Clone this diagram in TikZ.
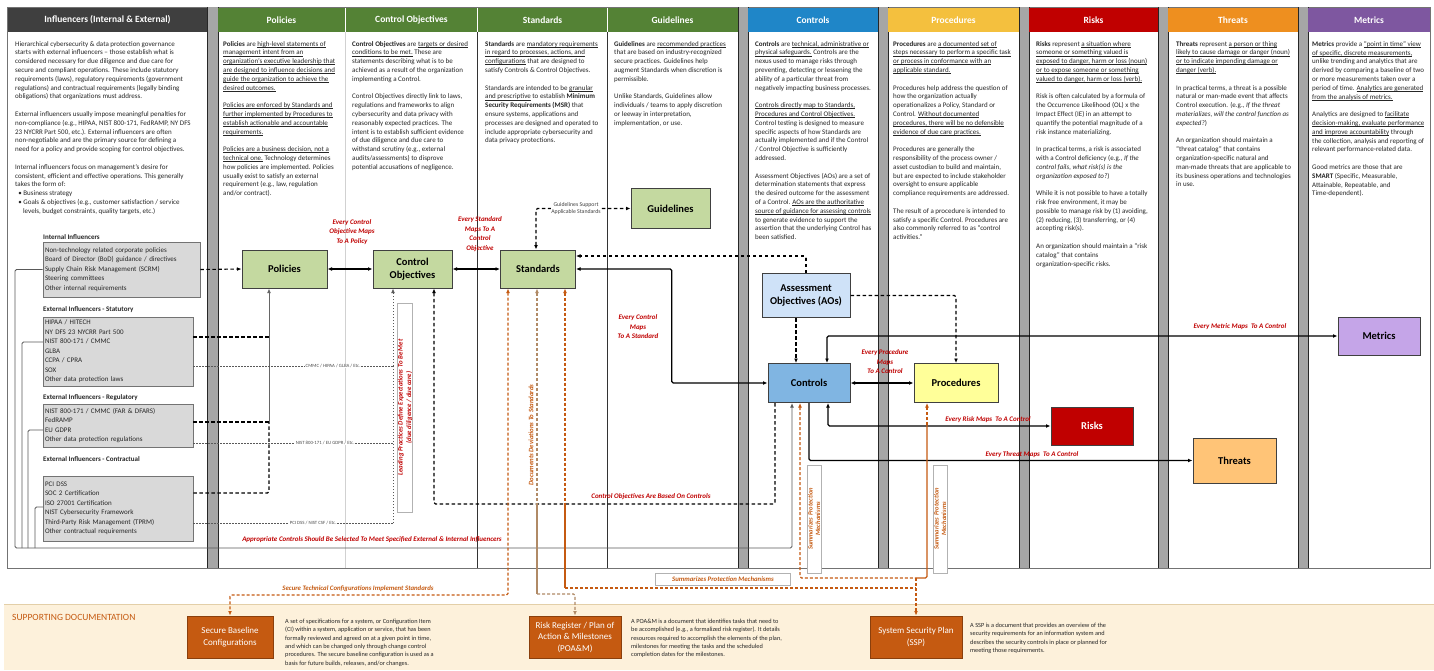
\documentclass[tikz,border=0pt]{standalone}
\usepackage{fontspec}
\setmainfont{Carlito}
\usetikzlibrary{arrows.meta,calc}

% palette
\definecolor{hdrgray}{HTML}{3F3F3F}
\definecolor{hdrgreen}{HTML}{548235}
\definecolor{hdrblue}{HTML}{1F86C8}
\definecolor{hdryellow}{HTML}{F4C03E}
\definecolor{hdrred}{HTML}{C00000}
\definecolor{hdrorange}{HTML}{EE8F1F}
\definecolor{hdrpurple}{HTML}{7E57A0}
\definecolor{bargray}{HTML}{A6A6A6}
\definecolor{boxgreen}{HTML}{C4D9A0}
\definecolor{aoblue}{HTML}{CFE2F8}
\definecolor{ctlblue}{HTML}{80B5E2}
\definecolor{procyellow}{HTML}{FFFF99}
\definecolor{riskred}{HTML}{C00000}
\definecolor{threatorange}{HTML}{FFC477}
\definecolor{metricpurple}{HTML}{C5A5E8}
\definecolor{infgray}{HTML}{D9D9D9}
\definecolor{labred}{HTML}{C00000}
\definecolor{docorange}{HTML}{C55A11}
\definecolor{docbrown}{HTML}{B08A66}
\definecolor{docband}{HTML}{FDF1DB}
\definecolor{docline}{HTML}{E3CFA8}
\definecolor{txt}{HTML}{262626}

% underlined phrase
\newsavebox\ulkbox
\newcommand{\ulk}[1]{\sbox\ulkbox{#1}\rlap{\rule[-1.2pt]{\wd\ulkbox}{0.45pt}}\usebox\ulkbox}

\tikzset{
  hdr/.style={text=white,font=\fontsize{9.5}{11}\selectfont\bfseries,inner sep=0pt},
  body/.style={anchor=north west,align=left,inner sep=0pt,text=txt,font=\fontsize{7}{8.8}\selectfont},
  docbody/.style={anchor=north west,align=left,inner sep=0pt,text=txt,font=\fontsize{6.3}{8.3}\selectfont},
  infhead/.style={anchor=west,inner sep=0pt,text=txt,font=\fontsize{7}{8}\selectfont\bfseries},
  infbox/.style={draw=black!55,fill=infgray,line width=0.7pt,align=left,text=txt,
    font=\fontsize{7}{9.5}\selectfont,inner xsep=2pt,inner ysep=0pt},
  mapbox/.style={draw=black!75,line width=1pt,align=center,
    font=\fontsize{10.5}{13.5}\selectfont\bfseries,inner sep=1pt},
  docbox/.style={draw=docorange!70!black,fill=docorange,line width=0.8pt,text=white,align=center,
    font=\fontsize{9}{11.5}\selectfont,inner sep=1pt},
  redlab/.style={text=labred,align=center,inner sep=0pt,font=\fontsize{7}{9.5}\selectfont\bfseries\itshape},
  orglab/.style={text=docorange,align=center,inner sep=0pt,font=\fontsize{6.8}{8.5}\selectfont\bfseries\itshape},
  labframe/.style={draw=black!30,fill=white,line width=0.5pt},
  tinylab/.style={fill=white,inner sep=0.6pt,text=black!70,font=\fontsize{4.8}{5.5}\selectfont},
  sline/.style={draw=black,line width=1.1pt,rounded corners=1.5pt},
  dline/.style={draw=black,line width=1.1pt,dash pattern=on 3.5pt off 2.5pt,rounded corners=1.5pt},
  gline/.style={draw=black!60,line width=1pt,rounded corners=1.5pt},
  dotline/.style={draw=black!65,line width=0.8pt,dash pattern=on 1.2pt off 1.8pt},
  brk/.style={draw=black!65,line width=0.9pt,rounded corners=1.5pt},
  odash/.style={draw=docorange,line width=1.1pt,dash pattern=on 3pt off 2pt,rounded corners=1.5pt},
  osolid/.style={draw=docorange,line width=1.1pt,rounded corners=1.5pt},
  bdash/.style={draw=docbrown,line width=1.1pt,dash pattern=on 3pt off 2pt,rounded corners=1.5pt},
  bsolid/.style={draw=docbrown,line width=1.1pt,rounded corners=1.5pt},
}

\begin{document}
\begin{tikzpicture}[x=1pt,y=-1pt,>={Latex[length=4.5pt,width=3.8pt]}]
\useasboundingbox (0,0) rectangle (1434,670);
\fill[white] (0,0) rectangle (1434,670);

%---- supporting documentation band
\fill[docband] (4,604) rectangle (1434,670);
\draw[docline,line width=0.8pt] (4,604) -- (1434,604);

%---- panel frame, column separators and gray bars
\draw[black!55,line width=0.8pt] (7,7) rectangle (1430,568);
\draw[black!18,line width=0.6pt] (345.5,32) -- (345.5,568);
\draw[black!80,line width=0.6pt] (477.5,32) -- (477.5,568);
\draw[black!80,line width=0.6pt] (607.5,32) -- (607.5,568);
\foreach \a/\b in {207/218,738/748,878/888,1019/1029,1158/1168,1298/1308}{
  \fill[bargray] (\a,7) rectangle (\b,568);
  \draw[black!85,line width=0.6pt] (\a,7) -- (\a,568) (\b,7) -- (\b,568);
}

%---- column headers
\fill[hdrgray] (8,8) rectangle (207,32);
\fill[hdrgreen] (218,8) rectangle (738,32);
\draw[white,line width=0.6pt] (345.5,8) -- (345.5,32) (477.5,8) -- (477.5,32) (607.5,8) -- (607.5,32);
\fill[hdrblue] (748,8) rectangle (878,32);
\fill[hdryellow] (888,8) rectangle (1019,32);
\fill[hdrred] (1029,8) rectangle (1158,32);
\fill[hdrorange] (1168,8) rectangle (1298,32);
\fill[hdrpurple] (1308,8) rectangle (1430,32);
\node[hdr] (hInf) at (107.5,20) {Influencers (Internal \& External)};
\node[hdr] (hPol) at (281.5,20) {Policies};
\node[hdr] (hCO) at (411.5,20) {Control Objectives};
\node[hdr] (hStd) at (542.5,20) {Standards};
\node[hdr] (hGdl) at (672.5,20) {Guidelines};
\node[hdr] (hCtl) at (813,20) {Controls};
\node[hdr] (hPrc) at (953.5,20) {Procedures};
\node[hdr] (hRsk) at (1093.5,20) {Risks};
\node[hdr] (hThr) at (1233,20) {Threats};
\node[hdr] (hMet) at (1369,20) {Metrics};

%---- column texts
\node[body] (tInf) at (15,41) {Hierarchical cybersecurity \& data protection governance\\
starts with external influencers – those establish what is\\
considered necessary for due diligence and due care for\\
secure and compliant operations. These include statutory\\
requirements (laws), regulatory requirements (government\\
regulations) and contractual requirements (legally binding\\
obligations) that organizations must address.\\[8.8pt]
External influencers usually impose meaningful penalties for\\
non-compliance (e.g., HIPAA, NIST 800-171, FedRAMP, NY DFS\\
23 NYCRR Part 500, etc.). External influencers are often\\
non-negotiable and are the primary source for defining a\\
need for a policy and provide scoping for control objectives.\\[8.8pt]
Internal influencers focus on management’s desire for\\
consistent, efficient and effective operations. This generally\\
takes the form of:\\
\ \ • Business strategy\\
\ \ • Goals \& objectives (e.g., customer satisfaction / service\\
\ \ \ \ \ levels, budget constraints, quality targets, etc.)};

\node[body] (tPol) at (223,41) {\textbf{Policies} are \ulk{high-level statements of}\\
\ulk{management intent from an}\\
\ulk{organization’s executive leadership that}\\
\ulk{are designed to influence decisions and}\\
\ulk{guide the organization to achieve the}\\
\ulk{desired outcomes.}\\[8.8pt]
\ulk{Policies are enforced by Standards and}\\
\ulk{further implemented by Procedures to}\\
\ulk{establish actionable and accountable}\\
\ulk{requirements.}\\[8.8pt]
\ulk{Policies are a business decision, not a}\\
\ulk{technical one.} Technology determines\\
how policies are implemented. Policies\\
usually exist to satisfy an external\\
requirement (e.g., law, regulation\\
and/or contract).};

\node[body] (tCO) at (352,41) {\textbf{Control Objectives} are \ulk{targets or desired}\\
\ulk{conditions to be met.} These are\\
statements describing what is to be\\
achieved as a result of the organization\\
implementing a Control.\\[8.8pt]
Control Objectives directly link to laws,\\
regulations and frameworks to align\\
cybersecurity and data privacy with\\
reasonably expected practices. The\\
intent is to establish sufficient evidence\\
of due diligence and due care to\\
withstand scrutiny (e.g., external\\
audits/assessments) to disprove\\
potential accusations of negligence.};

\node[body] (tStd) at (485,41) {\textbf{Standards} are \ulk{mandatory requirements}\\
\ulk{in regard to processes, actions, and}\\
\ulk{configurations} that are designed to\\
satisfy Controls \& Control Objectives.\\[8.8pt]
Standards are intended to be \ulk{granular}\\
\ulk{and prescriptive} to establish \textbf{Minimum}\\
\textbf{Security Requirements (MSR)} that\\
ensure systems, applications and\\
processes are designed and operated to\\
include appropriate cybersecurity and\\
data privacy protections.};

\node[body] (tGdl) at (614,41) {\textbf{Guidelines} are \ulk{recommended practices}\\
that are based on industry-recognized\\
secure practices. Guidelines help\\
augment Standards when discretion is\\
permissible.\\[8.8pt]
Unlike Standards, Guidelines allow\\
individuals / teams to apply discretion\\
or leeway in interpretation,\\
implementation, or use.};

\node[body] (tCtl) at (755,41) {\textbf{Controls} are \ulk{technical, administrative or}\\
\ulk{physical safeguards.} Controls are the\\
nexus used to manage risks through\\
preventing, detecting or lessening the\\
ability of a particular threat from\\
negatively impacting business processes.\\[8.8pt]
\ulk{Controls directly map to Standards,}\\
\ulk{Procedures and Control Objectives.}\\
Control testing is designed to measure\\
specific aspects of how Standards are\\
actually implemented and if the Control\\
/ Control Objective is sufficiently\\
addressed.\\[8.8pt]
Assessment Objectives (AOs) are a set of\\
determination statements that express\\
the desired outcome for the assessment\\
of a Control. \ulk{AOs are the authoritative}\\
\ulk{source of guidance for assessing controls}\\
to generate evidence to support the\\
assertion that the underlying Control has\\
been satisfied.};

\node[body] (tPrc) at (893,41) {\textbf{Procedures} are \ulk{a documented set of}\\
\ulk{steps necessary to perform a specific task}\\
\ulk{or process in conformance with an}\\
\ulk{applicable standard.}\\[8.8pt]
Procedures help address the question of\\
how the organization actually\\
operationalizes a Policy, Standard or\\
Control. \ulk{Without documented}\\
\ulk{procedures, there will be no defensible}\\
\ulk{evidence of due care practices.}\\[8.8pt]
Procedures are generally the\\
responsibility of the process owner /\\
asset custodian to build and maintain,\\
but are expected to include stakeholder\\
oversight to ensure applicable\\
compliance requirements are addressed.\\[8.8pt]
The result of a procedure is intended to\\
satisfy a specific Control. Procedures are\\
also commonly referred to as “control\\
activities.”};

\node[body] (tRsk) at (1036,41) {\textbf{Risks} represent \ulk{a situation where}\\
\ulk{someone or something valued is}\\
\ulk{exposed to danger, harm or loss (noun)}\\
\ulk{or to expose someone or something}\\
\ulk{valued to danger, harm or loss (verb).}\\[8.8pt]
Risk is often calculated by a formula of\\
the Occurrence Likelihood (OL) x the\\
Impact Effect (IE) in an attempt to\\
quantify the potential magnitude of a\\
risk instance materializing.\\[8.8pt]
In practical terms, a risk is associated\\
with a Control deficiency (e.g., \textit{If the}\\
\textit{control fails, what risk(s) is the}\\
\textit{organization exposed to?})\\[8.8pt]
While it is not possible to have a totally\\
risk free environment, it may be\\
possible to manage risk by (1) avoiding,\\
(2) reducing, (3) transferring, or (4)\\
accepting risk(s).\\[8.8pt]
An organization should maintain a “risk\\
catalog” that contains\\
organization-specific risks.};

\node[body] (tThr) at (1176,41) {\textbf{Threats} represent \ulk{a person or thing}\\
\ulk{likely to cause damage or danger (noun)}\\
\ulk{or to indicate impending damage or}\\
\ulk{danger (verb).}\\[8.8pt]
In practical terms, a threat is a possible\\
natural or man-made event that affects\\
Control execution. (e.g., \textit{If the threat}\\
\textit{materializes, will the control function as}\\
\textit{expected?})\\[8.8pt]
An organization should maintain a\\
“threat catalog” that contains\\
organization-specific natural and\\
man-made threats that are applicable to\\
its business operations and technologies\\
in use.};

\node[body] (tMet) at (1312,41) {\textbf{Metrics} provide a \ulk{“point in time” view}\\
\ulk{of specific, discrete measurements,}\\
unlike trending and analytics that are\\
derived by comparing a baseline of two\\
or more measurements taken over a\\
period of time. \ulk{Analytics are generated}\\
\ulk{from the analysis of metrics.}\\[8.8pt]
Analytics are designed to \ulk{facilitate}\\
\ulk{decision-making, evaluate performance}\\
\ulk{and improve accountability} through\\
the collection, analysis and reporting of\\
relevant performance-related data.\\[8.8pt]
Good metrics are those that are\\
\textbf{SMART} (Specific, Measurable,\\
Attainable, Repeatable, and\\
Time-dependent).};

%---- influencer groups
\node[infhead] (hIntB) at (43,237) {Internal Influencers};
\node[infbox,text width=153pt,minimum height=55pt] (intb) at (121.5,269.5) {Non-technology related corporate policies\\
Board of Director (BoD) guidance / directives\\
Supply Chain Risk Management (SCRM)\\
Steering committees\\
Other internal requirements};
\node[infhead] (hStB) at (43,310) {External Influencers - Statutory};
\node[infbox,text width=146pt,minimum height=69pt] (stb) at (118,351.5) {HIPAA / HITECH\\
NY DFS 23 NYCRR Part 500\\
NIST 800-171 / CMMC\\
GLBA\\
CCPA / CPRA\\
SOX\\
Other data protection laws};
\node[infhead] (hRgB) at (43,398) {External Influencers - Regulatory};
\node[infbox,text width=146pt,minimum height=43pt] (rgb) at (118,425.5) {NIST 800-171 / CMMC (FAR \& DFARS)\\
FedRAMP\\
EU GDPR\\
Other data protection regulations};
\node[infhead] (hCtB) at (43,459) {External Influencers - Contractual};
\node[infbox,text width=146pt,minimum height=65pt] (ctb) at (118,508.5) {PCI DSS\\
SOC 2 Certification\\
ISO 27001 Certification\\
NIST Cybersecurity Framework\\
Third-Party Risk Management (TPRM)\\
Other contractual requirements};

%---- main mapping nodes
\node[mapbox,fill=boxgreen,minimum width=85pt,minimum height=38pt] (pol) at (284.5,269) {Policies};
\node[mapbox,fill=boxgreen,minimum width=79pt,minimum height=38pt] (cobj) at (412.5,269) {Control\\Objectives};
\node[mapbox,fill=boxgreen,minimum width=75pt,minimum height=38pt] (std) at (538,269) {Standards};
\node[mapbox,fill=boxgreen,minimum width=79pt,minimum height=40pt] (gdl) at (670.5,208.5) {Guidelines};
\node[mapbox,fill=aoblue,minimum width=88pt,minimum height=44pt] (ao) at (806,295.5) {Assessment\\Objectives (AOs)};
\node[mapbox,fill=ctlblue,minimum width=82pt,minimum height=39pt] (ctl) at (809,383) {Controls};
\node[mapbox,fill=procyellow,minimum width=84pt,minimum height=39pt] (proc) at (956,383) {Procedures};
\node[mapbox,fill=riskred,text=white,minimum width=82pt,minimum height=38pt] (risk) at (1092,426) {Risks};
\node[mapbox,fill=threatorange,minimum width=83pt,minimum height=45pt] (thr) at (1234.5,460.5) {Threats};
\node[mapbox,fill=metricpurple,minimum width=82pt,minimum height=38pt] (met) at (1379,336) {Metrics};

%---- supporting documents
\node[anchor=west,inner sep=0pt,text=docorange,font=\fontsize{9.5}{11}\selectfont] (sdh) at (12,617) {SUPPORTING DOCUMENTATION};
\node[docbox,minimum width=86pt,minimum height=42pt] (sbc) at (230,637) {Secure Baseline\\Configurations};
\node[docbox,minimum width=92pt,minimum height=42pt] (rr) at (575,637) {Risk Register / Plan of\\Action \& Milestones\\(POA\&M)};
\node[docbox,minimum width=92pt,minimum height=42pt] (ssp) at (916,637) {System Security Plan\\(SSP)};
\node[docbody] (dSbc) at (285,619) {A set of specifications for a system, or Configuration Item\\
(CI) within a system, application or service, that has been\\
formally reviewed and agreed on at a given point in time,\\
and which can be changed only through change control\\
procedures. The secure baseline configuration is used as a\\
basis for future builds, releases, and/or changes.};
\node[docbody] (dRr) at (631,619) {A POA\&M is a document that identifies tasks that need to\\
be accomplished (e.g., a formalized risk register). It details\\
resources required to accomplish the elements of the plan,\\
milestones for meeting the tasks and the scheduled\\
completion dates for the milestones.};
\node[docbody] (dSsp) at (970,623) {A SSP is a document that provides an overview of the\\
security requirements for an information system and\\
describes the security controls in place or planned for\\
meeting those requirements.};

%---- junction points
\coordinate (pj1) at (269,337);
\coordinate (pj2) at (269,422);
\coordinate (pj3) at (269,493);
\coordinate (cj1) at (393,366);
\coordinate (cj2) at (393,443);
\coordinate (cj3) at (393,523);
\coordinate (ab0) at (15,548);
\coordinate (ab1) at (22,548);
\coordinate (ab2) at (28,548);
\coordinate (ab3) at (35,548);
\coordinate (stL) at (43,342);
\coordinate (rgL) at (43,430);
\coordinate (ctL) at (43,507);
\coordinate (cob) at (775,504);
\coordinate (sc1) at (508,595);
\coordinate (dd1) at (537,504);
\coordinate (dd2) at (537,594);
\coordinate (sp1) at (565,504);
\coordinate (sp2) at (565,588);
\coordinate (sj0) at (916,578);
\coordinate (sj) at (916,588);
\coordinate (sc2) at (800,578);
\coordinate (pp1) at (927,425);
\coordinate (pp2) at (927,578);

%---- influencers to policies and control objectives
\draw[dline,->] (intb.east) -- (pol.west);
\draw[dline] (stb.east |- pj1) -- (pj1);
\draw[dline] (rgb.east |- pj2) -- (pj2);
\draw[dline] (ctb.east |- pj3) -- (pj3) -- (pj2);
\draw[gline,->] (pj2) -- (pj2 |- pol.south);
\draw[dotline] (stb.east |- cj1) -- node[tinylab,pos=0.7] (dl1) {CMMC / HIPAA / GLBA / Etc.} (cj1);
\draw[dotline] (rgb.east |- cj2) -- node[tinylab,pos=0.66] (dl2) {NIST 800-171 / EU GDPR / Etc.} (cj2);
\draw[dotline] (ctb.east |- cj3) -- node[tinylab,pos=0.6] (dl3) {PCI DSS / NIST CSF / Etc.} (cj3);
\draw[dotline] (cj3) -- (cj2) -- (cj1);
\draw[dotline,->] (cj1) -- (cj1 |- cobj.south);
\node[labframe,rotate=90,minimum width=209pt,minimum height=15pt,inner sep=0pt] (lpbox) at (405,407.5) {};
\node[redlab,rotate=90,font=\fontsize{6.8}{8.5}\selectfont\bfseries\itshape] (lp) at (405,407.5) {Leading Practices Define Expectations To Be Met\\(due diligence / due care)};

%---- influencer brackets feeding Controls
\draw[brk,->] (intb.west) -| (ab0) -| ([xshift=-17pt]ctl.south);
\draw[brk] (stL) -| (ab1);
\draw[brk] (rgL) -| (ab2);
\draw[brk] (ctL) -| (ab3);

%---- mapping relationships
\draw[sline,<->] (pol.east) -- (cobj.west);
\draw[sline,<->] (cobj.east) -- (std.west);
\draw[dline,<->] ([xshift=-2pt]std.north) |- (gdl.west);
\node[fill=white,inner sep=0.8pt,align=center,text=black!75,font=\fontsize{5.8}{7}\selectfont] (gs) at (576,208) {Guidelines Support\\Applicable Standards};
\draw[dline,->] (ao.north) |- ([yshift=13pt]std.east);
\draw[dline,->] ([xshift=-10pt]ao.south) -- ([xshift=-13pt]ctl.north);
\draw[dline,->] (ao.east) -| (proc.north);
\draw[sline,<->] (std.east) -| ($(std.east)!0.5!(ctl.west)$) |- (ctl.west);
\draw[sline,<->] (ctl.east) -- (proc.west);
\draw[sline,<->] ([xshift=18pt]ctl.north) |- (met.west);
\draw[sline,<->] ([xshift=19pt]ctl.south) |- (risk.west);
\draw[sline,->] (ctl.south) |- (thr.west);
\draw[dline,->] ([xshift=-34pt]ctl.south) -- (cob) -| ([xshift=21.5pt]cobj.south);

%---- supporting documentation links
\draw[odash,<->] ([xshift=-30pt]std.south) -- (sc1) -| (sbc.north);
\draw[bdash,<-] ([xshift=-1pt]std.south) -- (dd1);
\draw[bsolid] (dd1) -- (dd2);
\draw[bdash,->] (dd2) -| (rr.north);
\draw[odash,<-] ([xshift=27pt]std.south) -- (sp1);
\draw[osolid] (sp1) -- (sp2);
\draw[odash] (sp2) -- (sj);
\draw[odash,<-] ([xshift=-9pt]ctl.south) -- (sc2) -- (sj0);
\draw[odash,<-] ([xshift=-29pt]proc.south) -- (pp1);
\draw[osolid] (pp1) -- (pp2) -- (sj0);
\draw[odash,->] (sj0) -- (ssp.north);

%---- relationship labels
\node[redlab] (l1) at (352,232) {Every Control\\Objective Maps\\To A Policy};
\node[redlab] (l2) at (480,234) {Every Standard\\Maps To A\\Control\\Objective};
\node[redlab] (l3) at (638,327) {Every Control\\Maps\\To A Standard};
\node[redlab] (l4) at (885,362) {Every Procedure\\Maps\\To A Control};
\node[redlab] (l5) at (1240,327) {Every Metric Maps~ To A Control};
\node[redlab] (l6) at (988,420) {Every Risk Maps~ To A Control};
\node[redlab] (l7) at (1032,455) {Every Threat Maps~ To A Control};
\node[redlab] (l8) at (651,497) {Control Objectives Are Based On Controls};
\node[redlab] (l9) at (372,540) {Appropriate Controls Should Be Selected To Meet Specified External \& Internal Influencers};

\node[orglab] (o1) at (358,589) {Secure Technical Configurations Implement Standards};
\node[orglab,rotate=90] (o2) at (531,435) {Documents Deviations To Standards};
\node[labframe,minimum width=135pt,minimum height=12pt,inner sep=0pt] (o3f) at (723,579) {};
\node[orglab] (o3) at (723,579) {Summarizes Protection Mechanisms};
\node[labframe,rotate=90,minimum width=108pt,minimum height=14pt,inner sep=0pt] (o4f) at (814,519) {};
\node[orglab,rotate=90,font=\fontsize{6.5}{7.5}\selectfont\bfseries\itshape] (o4) at (814,519) {Summarizes Protection\\Mechanisms};
\node[labframe,rotate=90,minimum width=108pt,minimum height=14pt,inner sep=0pt] (o5f) at (940,519) {};
\node[orglab,rotate=90,font=\fontsize{6.5}{7.5}\selectfont\bfseries\itshape] (o5) at (940,519) {Summarizes Protection\\Mechanisms};
\end{tikzpicture}
\end{document}
